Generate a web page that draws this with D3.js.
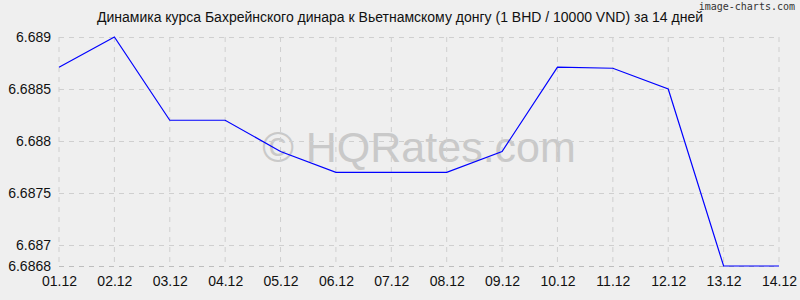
<!DOCTYPE html>
<html>
<head>
<meta charset="utf-8">
<script src="https://cdn.jsdelivr.net/npm/d3@7"></script>
<style>
  body { margin: 0; background: #efefef; }
  svg { display: block; font-family: "Liberation Sans", Arial, sans-serif; }
</style>
</head>
<body>
<div id="chart"></div>
<script>
'use strict';

// data
const dates = ['01.12','02.12','03.12','04.12','05.12','06.12','07.12','08.12','09.12','10.12','11.12','12.12','13.12','14.12'];
const rates = [6.68871, 6.6890, 6.68820, 6.68820, 6.68790, 6.68770, 6.68770, 6.68770, 6.68790, 6.68871, 6.68870, 6.68850, 6.6868, 6.6868];
const yTicks = [6.6868, 6.687, 6.6875, 6.688, 6.6885, 6.689];

const W = 800, H = 300;
let margin = {top: 37, right: 21, bottom: 34, left: 59},
  width = W - margin.left - margin.right,
  height = H - margin.top - margin.bottom;

let svg = d3.select("#chart")
  .append("svg")
    .attr("width", W)
    .attr("height", H);

svg.append("rect")
  .attr("width", W)
  .attr("height", H)
  .style("fill", "#efefef");

// title
svg.append("text")
  .attr("x", 400)
  .attr("y", 22)
  .attr("text-anchor", "middle")
  .style("font-size", "14px")
  .style("fill", "#111")
  .text("Динамика курса Бахрейнского динара к Вьетнамскому донгу (1 BHD / 10000 VND) за 14 дней");

svg.append("text")
  .attr("x", 795)
  .attr("y", 10)
  .attr("text-anchor", "end")
  .style("font-family", "'DejaVu Sans Mono', monospace")
  .style("font-size", "10px")
  .style("fill", "#333")
  .text("image-charts.com");

let g = svg.append("g")
  .attr("transform", "translate(" + margin.left + "," + margin.top + ")");

let x = d3.scalePoint()
  .domain(dates)
  .range([0, width]);

let y = d3.scaleLinear()
  .domain([6.6868, 6.689])
  .range([height, 0]);

// watermark
g.append("text")
  .attr("x", width / 2 - 59 + 59)
  .attr("y", 125)
  .attr("text-anchor", "middle")
  .style("font-size", "43px")
  .style("fill", "#c9c9c9")
  .text("© HQRates.com");

// grid
g.append("g").selectAll("line")
  .data(dates)
  .enter()
  .append("line")
  .attr("x1", d => x(d))
  .attr("x2", d => x(d))
  .attr("y1", 0)
  .attr("y2", height)
  .style("stroke", "#cfcfcf")
  .style("stroke-dasharray", "5,5");

g.append("g").selectAll("line")
  .data(yTicks)
  .enter()
  .append("line")
  .attr("x1", 0)
  .attr("x2", width)
  .attr("y1", d => Math.round(y(d)) + 0.5)
  .attr("y2", d => Math.round(y(d)) + 0.5)
  .style("stroke", d => d === 6.6868 ? "#bdbdbd" : "#cfcfcf")
  .style("stroke-dasharray", "5,5");

// axes labels
g.append("g")
  .call(d3.axisLeft(y).tickValues(yTicks).tickFormat(d => String(+d.toFixed(4))).tickSize(0).tickPadding(8))
  .call(a => a.select(".domain").remove())
  .selectAll("text")
  .style("font-size", "14px")
  .style("font-family", "'Liberation Sans', Arial, sans-serif")
  .style("fill", "#111");

g.append("g")
  .attr("transform", "translate(0," + height + ")")
  .call(d3.axisBottom(x).tickSize(0).tickPadding(10))
  .call(a => a.select(".domain").remove())
  .selectAll("text")
  .style("font-size", "14px")
  .style("font-family", "'Liberation Sans', Arial, sans-serif")
  .style("fill", "#111");

// line
let line = d3.line()
  .x((d, i) => x(dates[i]))
  .y(d => y(d));

g.append("path")
  .datum(rates)
  .attr("d", line)
  .style("fill", "none")
  .style("stroke", "#0000ff")
  .style("stroke-width", 1.2);
</script>
</body>
</html>
